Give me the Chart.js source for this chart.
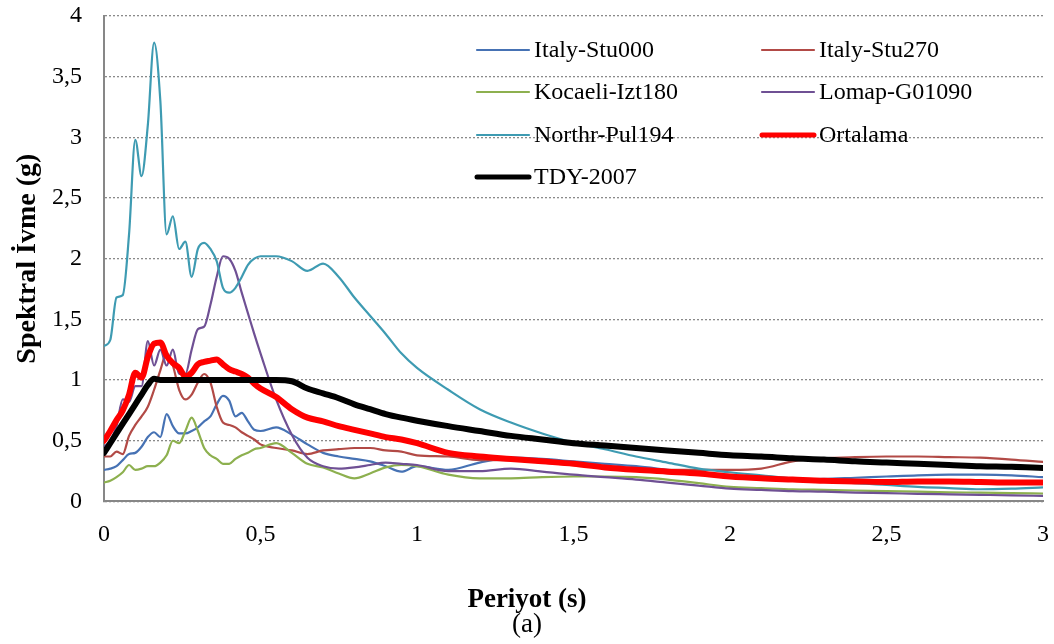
<!DOCTYPE html>
<html>
<head>
<meta charset="utf-8">
<script src="https://cdn.jsdelivr.net/npm/chart.js@4.4.1/dist/chart.umd.min.js"></script>
<style>
  html, body { margin: 0; padding: 0; background: #fff; }
  #wrap { width: 1054px; height: 644px; position: relative; }
</style>
</head>
<body>
<div id="wrap"><canvas id="spectraChart"></canvas></div>
<script>
// periyot (s)
const periods = [0, 0.02, 0.04, 0.06, 0.08, 0.10, 0.12, 0.14, 0.16, 0.18, 0.20, 0.22, 0.24, 0.26, 0.28,
  0.30, 0.32, 0.34, 0.36, 0.38, 0.40, 0.42, 0.44, 0.46, 0.48, 0.50, 0.55, 0.60, 0.65, 0.70, 0.75,
  0.80, 0.85, 0.90, 0.95, 1.0, 1.1, 1.2, 1.3, 1.4, 1.5, 1.6, 1.7, 1.8, 1.9, 2.0, 2.1, 2.2, 2.3,
  2.4, 2.5, 2.6, 2.7, 2.8, 2.9, 3.0];

const italyStu000 = [0.26, 0.27, 0.29, 0.34, 0.39, 0.40, 0.45, 0.53, 0.57, 0.53, 0.72, 0.62, 0.56, 0.56, 0.58,
  0.61, 0.66, 0.70, 0.80, 0.87, 0.83, 0.70, 0.73, 0.66, 0.59, 0.58, 0.61, 0.55, 0.47, 0.40, 0.37,
  0.35, 0.33, 0.29, 0.245, 0.29, 0.26, 0.32, 0.36, 0.35, 0.33, 0.31, 0.29, 0.26, 0.23, 0.205, 0.19, 0.18, 0.185,
  0.195, 0.205, 0.215, 0.22, 0.22, 0.215, 0.20];

const italyStu270 = [0.37, 0.37, 0.41, 0.39, 0.54, 0.63, 0.70, 0.78, 0.92, 1.08, 1.22, 1.12, 0.92, 0.84, 0.88,
  0.98, 1.05, 0.98, 0.78, 0.65, 0.63, 0.61, 0.57, 0.54, 0.51, 0.47, 0.44, 0.42, 0.39, 0.42, 0.43,
  0.44, 0.44, 0.42, 0.41, 0.38, 0.37, 0.34, 0.34, 0.32, 0.30, 0.28, 0.27, 0.26, 0.26, 0.26, 0.27, 0.33, 0.355,
  0.365, 0.37, 0.37, 0.365, 0.36, 0.345, 0.325];

const kocaeliIzt180 = [0.155, 0.17, 0.20, 0.24, 0.30, 0.26, 0.27, 0.29, 0.29, 0.32, 0.38, 0.50, 0.48, 0.58, 0.69,
  0.58, 0.44, 0.38, 0.35, 0.31, 0.31, 0.35, 0.38, 0.40, 0.43, 0.44, 0.48, 0.40, 0.31, 0.28, 0.23,
  0.19, 0.23, 0.28, 0.30, 0.29, 0.22, 0.19, 0.19, 0.20, 0.205, 0.205, 0.20, 0.18, 0.15, 0.12, 0.11, 0.10, 0.095,
  0.09, 0.085, 0.08, 0.075, 0.072, 0.068, 0.065];

const lomapG01090 = [0.45, 0.50, 0.62, 0.84, 0.82, 0.95, 0.95, 1.32, 1.12, 1.25, 1.12, 1.25, 1.05, 1.05, 1.25,
  1.42, 1.44, 1.62, 1.85, 2.02, 2.00, 1.90, 1.72, 1.55, 1.38, 1.22, 0.84, 0.55, 0.36, 0.29, 0.27,
  0.28, 0.30, 0.32, 0.31, 0.30, 0.25, 0.25, 0.27, 0.245, 0.22, 0.20, 0.18, 0.155, 0.13, 0.105, 0.095, 0.085, 0.08,
  0.072, 0.068, 0.062, 0.058, 0.054, 0.05, 0.045];

const northrPul194 = [1.28, 1.33, 1.68, 1.70, 2.20, 2.98, 2.68, 3.10, 3.78, 3.30, 2.20, 2.35, 2.08, 2.14, 1.85,
  2.08, 2.13, 2.08, 1.98, 1.76, 1.72, 1.76, 1.85, 1.95, 2.00, 2.02, 2.02, 1.98, 1.90, 1.96, 1.85,
  1.68, 1.53, 1.38, 1.22, 1.10, 0.92, 0.76, 0.65, 0.56, 0.485, 0.43, 0.37, 0.32, 0.27, 0.24, 0.215, 0.19, 0.17,
  0.15, 0.135, 0.12, 0.11, 0.10, 0.105, 0.115];

const ortalama = [0.50, 0.58, 0.67, 0.75, 0.88, 1.06, 1.02, 1.19, 1.30, 1.31, 1.20, 1.14, 1.10, 1.03, 1.06,
  1.13, 1.15, 1.16, 1.17, 1.13, 1.09, 1.07, 1.05, 1.02, 0.97, 0.93, 0.86, 0.76, 0.69, 0.66, 0.62,
  0.59, 0.56, 0.53, 0.51, 0.48, 0.40, 0.37, 0.35, 0.33, 0.31, 0.28, 0.26, 0.245, 0.23, 0.205, 0.19, 0.18, 0.17,
  0.165, 0.16, 0.165, 0.165, 0.16, 0.155, 0.155];

const tdy2007 = [0.40, 0.48, 0.56, 0.64, 0.72, 0.80, 0.88, 0.96, 1.01, 1.00, 1.00, 1.00, 1.00, 1.00, 1.00,
  1.00, 1.00, 1.00, 1.00, 1.00, 1.00, 1.00, 1.00, 1.00, 1.00, 1.00, 1.00, 0.99, 0.93, 0.89, 0.85,
  0.80, 0.76, 0.72, 0.69, 0.665, 0.62, 0.58, 0.54, 0.51, 0.48, 0.46, 0.44, 0.42, 0.40, 0.38, 0.37, 0.355, 0.345,
  0.33, 0.32, 0.31, 0.30, 0.29, 0.285, 0.275];

const seriesNames = ['Italy-Stu000', 'Italy-Stu270', 'Kocaeli-Izt180', 'Lomap-G01090', 'Northr-Pul194', 'Ortalama', 'TDY-2007'];
const seriesValues = [italyStu000, italyStu270, kocaeliIzt180, lomapG01090, northrPul194, ortalama, tdy2007];
const seriesColors = ['#4672B4', '#B24A46', '#8DB04F', '#6F5094', '#3E9BB2', '#FF0000', '#000000'];
const seriesWidths = [2.2, 2.2, 2.2, 2.2, 2.2, 6, 6];
const yTicks = [0, 0.5, 1, 1.5, 2, 2.5, 3, 3.5, 4];

const serif = "'Liberation Serif', 'Times New Roman', serif";

function toPoints(values) {
  return periods.map(function (p, i) { return { x: p, y: values[i] }; });
}

function commaLabel(v) {
  return String(Math.round(v * 10) / 10).replace('.', ',');
}

// Excel style legend inside the plot, two columns
const gridLegend = {
  id: 'gridLegend',
  afterDatasetsDraw(chart) {
    const ctx = chart.ctx;
    const cols = [477, 762];
    const rows = [50, 92, 135, 177];
    ctx.save();
    ctx.font = '24px ' + serif;
    ctx.textBaseline = 'middle';
    ctx.fillStyle = '#000';
    seriesNames.forEach(function (name, i) {
      const x = cols[i % 2];
      const y = rows[Math.floor(i / 2)];
      ctx.beginPath();
      ctx.strokeStyle = seriesColors[i];
      ctx.lineWidth = seriesWidths[i] > 3 ? 5 : 2.2;
      ctx.lineCap = 'round';
      ctx.moveTo(x, y);
      ctx.lineTo(x + 52, y);
      ctx.stroke();
      ctx.fillText(name, x + 57, y + 1);
    });
    ctx.restore();
  }
};

const ctx = document.getElementById('spectraChart').getContext('2d');

const data = {
  datasets: seriesNames.map(function (name, i) {
    return {
      label: name,
      data: toPoints(seriesValues[i]),
      borderColor: seriesColors[i],
      backgroundColor: seriesColors[i],
      borderWidth: seriesWidths[i],
      pointRadius: 0,
      cubicInterpolationMode: 'monotone',
      borderCapStyle: 'round',
      borderJoinStyle: 'round',
      order: seriesNames.length - i
    };
  })
};

const config = {
  type: 'line',
  data: data,
  plugins: [gridLegend],
  options: {
    responsive: true,
    maintainAspectRatio: false,
    animation: false,
    layout: {
      padding: { top: 0, right: 0, left: 0, bottom: 0 }
    },
    plugins: {
      legend: { display: false },
      tooltip: { enabled: false },
      // x axis name sits centred on the whole figure, like the caption
      subtitle: {
        display: true,
        position: 'bottom',
        text: 'Periyot (s)',
        color: '#000',
        font: { family: serif, size: 27, weight: 'bold' },
        padding: { top: 0, bottom: 0 }
      },
      title: {
        display: true,
        position: 'bottom',
        text: '(a)',
        color: '#000',
        font: { family: serif, size: 27, weight: 'normal' },
        padding: { top: -8, bottom: 3 }
      }
    },
    scales: {
      x: {
        type: 'linear',
        min: 0,
        max: 3,
        afterFit: function (scale) {
          scale.height = 82.8;
          scale.paddingLeft = 0;
          scale.paddingRight = 11;
        },
        grid: { display: false, drawTicks: false },
        border: { display: true, color: '#878787', width: 2 },
        ticks: {
          stepSize: 0.5,
          padding: 18.6,
          color: '#000',
          font: { family: serif, size: 24 },
          callback: commaLabel
        },
        title: { display: false }
      },
      y: {
        min: 0,
        max: 4,
        afterBuildTicks: function (scale) {
          scale.ticks = yTicks.map(function (v) { return { value: v }; });
        },
        afterFit: function (scale) {
          scale.width = 104;
          scale.paddingTop = 16;
          scale.paddingBottom = 0;
        },
        grid: { display: true, drawTicks: false, color: '#8a8a8a', lineWidth: 1.3 },
        border: { display: true, color: '#878787', width: 2, dash: [2, 2] },
        ticks: {
          padding: 22,
          color: '#000',
          font: { family: serif, size: 24 },
          callback: commaLabel
        },
        title: {
          display: true,
          text: 'Spektral İvme (g)',
          color: '#000',
          font: { family: serif, size: 28, weight: 'bold' },
          padding: { top: 11, bottom: 0 }
        }
      }
    }
  }
};

const spectraChart = new Chart(ctx, config);
</script>
</body>
</html>
